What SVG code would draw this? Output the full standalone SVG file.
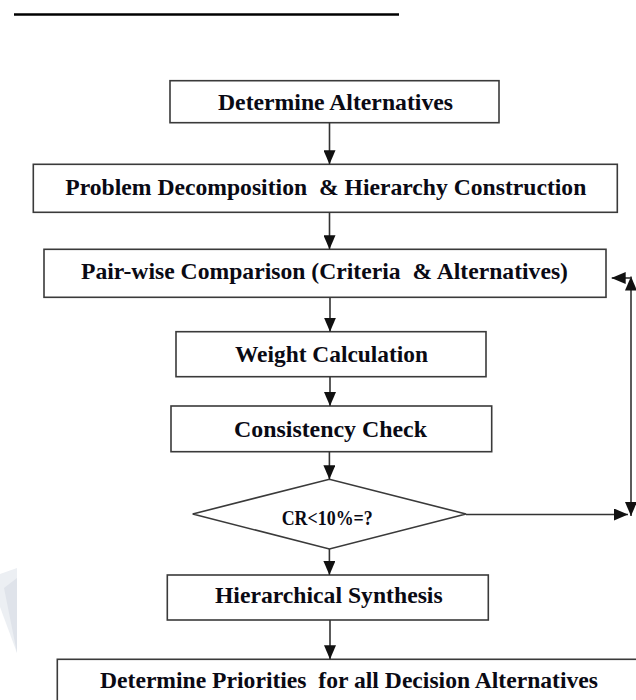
<svg xmlns="http://www.w3.org/2000/svg" width="636" height="700" viewBox="0 0 636 700">
<style>
.box{fill:#fff;stroke:#3a3a3a;stroke-width:1.6}
.t{font-family:"Liberation Serif","Times New Roman",serif;font-weight:bold;font-size:23.8px;fill:#0a0a14;text-anchor:middle;white-space:pre}
.c{stroke:#333;stroke-width:1.6;fill:none}
</style>
<defs>
<marker id="ah" markerUnits="userSpaceOnUse" markerWidth="14" markerHeight="12" refX="14" refY="6" orient="auto-start-reverse" viewBox="0 0 14 12">
<path d="M0,0 L14,6 L0,12 z" fill="#111"/>
</marker>
</defs>
<rect width="636" height="700" fill="#fff"/>
<polygon points="0,574 17,568 17,653 0,607" fill="#eceff3"/>
<polygon points="4,588 17,578 17,653" fill="#dfe3ea"/>
<line x1="14" y1="14.6" x2="399" y2="14.6" stroke="#000" stroke-width="2.5"/>
<g id="n1"><rect class="box" x="170" y="80.7" width="329" height="42"/><text class="t" x="335.5" y="110" textLength="235" lengthAdjust="spacingAndGlyphs">Determine Alternatives</text></g>
<g id="n2"><rect class="box" x="33.3" y="164.3" width="584" height="48"/><text class="t" x="325.8" y="195" textLength="521" lengthAdjust="spacingAndGlyphs">Problem Decomposition  &amp; Hierarchy Construction</text></g>
<g id="n3"><rect class="box" x="44" y="249.3" width="562" height="48"/><text class="t" x="324.5" y="279.3" textLength="487" lengthAdjust="spacingAndGlyphs">Pair-wise Comparison (Criteria  &amp; Alternatives)</text></g>
<g id="n4"><rect class="box" x="176" y="331.7" width="310" height="45"/><text class="t" x="331.5" y="361.7" textLength="193" lengthAdjust="spacingAndGlyphs">Weight Calculation</text></g>
<g id="n5"><rect class="box" x="171" y="406" width="320.7" height="45.7"/><text class="t" x="330.5" y="436.7" textLength="193" lengthAdjust="spacingAndGlyphs">Consistency Check</text></g>
<g id="n6"><polygon class="box" points="192.7,514 329.4,479.3 466,514 329.4,549"/><text class="t" x="327.2" y="524.5" style="font-size:21px" textLength="91" lengthAdjust="spacingAndGlyphs">CR&lt;10%=?</text></g>
<g id="n7"><rect class="box" x="167.3" y="575" width="321" height="45"/><text class="t" x="328.8" y="603.3" textLength="227.7" lengthAdjust="spacingAndGlyphs">Hierarchical Synthesis</text></g>
<g id="n8"><rect class="box" x="57.3" y="659.3" width="600" height="60"/><text class="t" x="349" y="688.3" textLength="498" lengthAdjust="spacingAndGlyphs">Determine Priorities  for all Decision Alternatives</text></g>
<g id="connectors">
<line class="c" x1="329.5" y1="122.7" x2="329.5" y2="164.3" marker-end="url(#ah)"/>
<line class="c" x1="329.5" y1="212.3" x2="329.5" y2="249.3" marker-end="url(#ah)"/>
<line class="c" x1="330" y1="297.3" x2="330" y2="331.7" marker-end="url(#ah)"/>
<line class="c" x1="330" y1="376.7" x2="330" y2="406" marker-end="url(#ah)"/>
<line class="c" x1="329.4" y1="451.7" x2="329.4" y2="479.3" marker-end="url(#ah)"/>
<line class="c" x1="329.4" y1="549" x2="329.4" y2="575" marker-end="url(#ah)"/>
<line class="c" x1="330" y1="620" x2="330" y2="659.3" marker-end="url(#ah)"/>
<line class="c" x1="466" y1="514.5" x2="628" y2="514.5" marker-end="url(#ah)"/>
<line class="c" x1="631" y1="276.5" x2="631" y2="516" marker-start="url(#ah)" marker-end="url(#ah)"/>
<line class="c" x1="631" y1="278" x2="611.7" y2="278" marker-end="url(#ah)"/>
</g>
</svg>
